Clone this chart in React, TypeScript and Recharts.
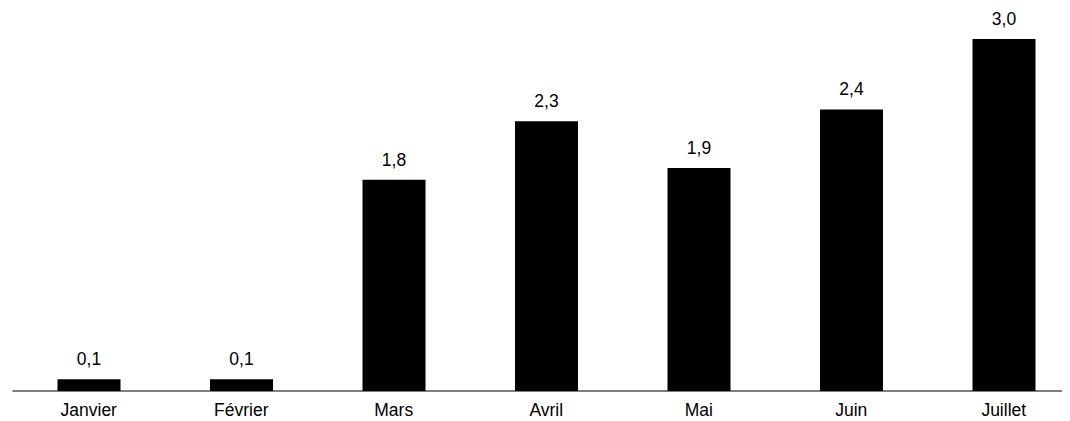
import React from 'react';
import { BarChart, Bar, XAxis, YAxis, LabelList } from 'recharts';

const months = ['Janvier', 'Février', 'Mars', 'Avril', 'Mai', 'Juin', 'Juillet'];
const values = [0.1, 0.1, 1.8, 2.3, 1.9, 2.4, 3.0];

const data = months.map((month, i) => ({ month, value: values[i] }));

const font = 'Arial, "Liberation Sans", sans-serif';

const formatValue = (v: number) => v.toFixed(1).replace('.', ',');

export default function App() {
  return (
    <div style={{ width: 1062, height: 413, overflow: 'hidden', fontFamily: font }}>
      <BarChart
        width={1080}
        height={413}
        data={data}
        margin={{ top: 31, right: 8, left: 4.5, bottom: 0 }}
      >
        <XAxis
          dataKey="month"
          height={30}
          tickLine={false}
          axisLine={{ stroke: '#000', strokeWidth: 1 }}
          tick={{ fill: '#000', fontSize: 17.5, fontFamily: font }}
          tickMargin={7}
        />
        <YAxis hide domain={[0, 3]} />
        <Bar dataKey="value" fill="#000" barSize={63} isAnimationActive={false}>
          <LabelList
            dataKey="value"
            position="top"
            offset={14}
            formatter={(v: number) => formatValue(v)}
            style={{ fill: '#000', fontSize: 17.5, fontFamily: font }}
          />
        </Bar>
      </BarChart>
    </div>
  );
}
